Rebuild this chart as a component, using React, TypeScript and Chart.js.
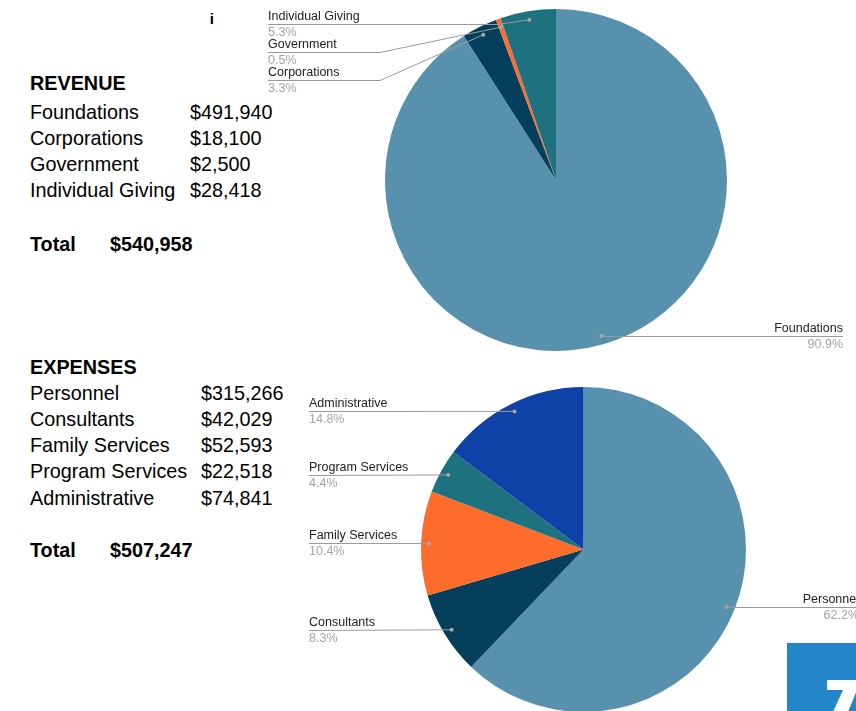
import React, { useEffect, useRef } from "react";
import { Chart, registerables } from "chart.js";

Chart.register(...registerables);

// ---- Data ----
const revenueCategories = ["Foundations", "Corporations", "Government", "Individual Giving"];
const revenueValues = [491940, 18100, 2500, 28418];
const expenseCategories = ["Personnel", "Consultants", "Family Services", "Program Services", "Administrative"];
const expenseValues = [315266, 42029, 52593, 22518, 74841];

// ---- Styles ----
const revenueColors = ["#5891ad", "#063f5c", "#fe6c2c", "#1e7280"];
const expenseColors = ["#5891ad", "#063f5c", "#fe6c2c", "#1e7280", "#0f42a6"];

type LabelSpec = { side: "left" | "right"; x: number; lineY?: number; elbowX?: number };

const revenueLabelLayout: LabelSpec[] = [
  { side: "right", x: 843 },
  { side: "left", x: 268, lineY: 80, elbowX: 380 },
  { side: "left", x: 268, lineY: 52, elbowX: 380 },
  { side: "left", x: 268, lineY: 24, elbowX: 498 },
];
const expenseLabelLayout: LabelSpec[] = [
  { side: "right", x: 859 },
  { side: "left", x: 309 },
  { side: "left", x: 309 },
  { side: "left", x: 309 },
  { side: "left", x: 309 },
];

const FONT = "'Liberation Sans', Arial, Helvetica, sans-serif";
const W = 856;
const H = 711;
const CANVAS_H = 760;

const leaderPlugin = {
  id: "leaderLabels",
  afterDraw(chart: any) {
    const layout: LabelSpec[] = chart.options.plugins.leaderLabels.layout;
    const ctx = chart.ctx;
    const meta = chart.getDatasetMeta(0);
    const data: number[] = chart.data.datasets[0].data;
    const labels: string[] = chart.data.labels;
    const total = data.reduce((a, b) => a + b, 0);
    ctx.save();
    meta.data.forEach((arc: any, i: number) => {
      const spec = layout[i];
      const p = arc.getProps(["x", "y", "startAngle", "endAngle", "outerRadius"], true);
      const mid = (p.startAngle + p.endAngle) / 2;
      const dx = p.x + Math.cos(mid) * p.outerRadius * 0.95;
      const dy = p.y + Math.sin(mid) * p.outerRadius * 0.95;
      const lineY = spec.lineY !== undefined ? spec.lineY : Math.round(dy);
      ctx.strokeStyle = "#9a9a9a";
      ctx.lineWidth = 1;
      ctx.beginPath();
      if (spec.side === "left") {
        ctx.moveTo(spec.x, lineY + 0.5);
        if (spec.elbowX !== undefined) {
          ctx.lineTo(spec.elbowX, lineY + 0.5);
        }
        ctx.lineTo(dx, dy);
      } else {
        ctx.moveTo(dx, lineY + 0.5);
        ctx.lineTo(spec.x, lineY + 0.5);
      }
      ctx.stroke();
      ctx.fillStyle = "#a6a6a6";
      ctx.beginPath();
      ctx.arc(dx, dy, 2, 0, Math.PI * 2);
      ctx.fill();

      ctx.textAlign = spec.side === "left" ? "left" : "right";
      ctx.textBaseline = "alphabetic";
      ctx.font = `12.5px ${FONT}`;
      ctx.fillStyle = "#222222";
      ctx.fillText(labels[i], spec.x, lineY - 4);
      ctx.fillStyle = "#a3a3a3";
      ctx.fillText(((data[i] / total) * 100).toFixed(1) + "%", spec.x, lineY + 11.5);
    });
    ctx.restore();
  },
};

function PieCanvas(props: {
  labels: string[];
  values: number[];
  colors: string[];
  padding: { left: number; right: number; top: number; bottom: number };
  layout: LabelSpec[];
}) {
  const ref = useRef<HTMLCanvasElement>(null);
  useEffect(() => {
    if (!ref.current) return;
    const chart = new Chart(ref.current, {
      type: "pie",
      data: {
        labels: props.labels,
        datasets: [
          {
            data: props.values,
            backgroundColor: props.colors,
            borderWidth: 0,
          },
        ],
      },
      options: {
        animation: false,
        responsive: false,
        devicePixelRatio: 1,
        layout: { padding: props.padding },
        plugins: {
          legend: { display: false },
          tooltip: { enabled: false },
          // @ts-ignore
          leaderLabels: { layout: props.layout },
        },
      } as any,
      plugins: [leaderPlugin],
    });
    return () => chart.destroy();
  }, []);
  return (
    <canvas
      ref={ref}
      width={W}
      height={CANVAS_H}
      style={{ position: "absolute", left: 0, top: 0, width: W, height: CANVAS_H }}
    />
  );
}

const fmt = (v: number) => "$" + v.toLocaleString("en-US");

function TextAt(props: { x: number; baseline: number; bold?: boolean; children: React.ReactNode }) {
  return (
    <div
      style={{
        position: "absolute",
        left: props.x,
        top: props.baseline - 16,
        fontFamily: FONT,
        fontSize: "19.8px",
        lineHeight: "19px",
        fontWeight: props.bold ? "bold" : "normal",
        color: "#000",
        whiteSpace: "nowrap",
      }}
    >
      {props.children}
    </div>
  );
}

export default function App() {
  const revTotal = revenueValues.reduce((a, b) => a + b, 0);
  const expTotal = expenseValues.reduce((a, b) => a + b, 0);
  const revRowBaselines = [119, 145, 171, 197];
  const expRowBaselines = [400, 426, 452, 478, 505];
  return (
    <div
      style={{
        position: "absolute",
        left: 0,
        top: 0,
        width: W,
        height: H,
        overflow: "hidden",
        background: "#fff",
      }}
    >
      <div
        style={{
          position: "absolute",
          left: 210,
          top: 10,
          width: 4,
          height: 18,
          overflow: "hidden",
        }}
      >
        <div
          style={{
            position: "absolute",
            right: 0,
            top: 0,
            fontFamily: FONT,
            fontSize: "15px",
            lineHeight: "18px",
            fontWeight: "bold",
            color: "#000",
          }}
        >
          i
        </div>
      </div>

      <TextAt x={30} baseline={90} bold>
        REVENUE
      </TextAt>
      {revenueCategories.map((c, i) => (
        <React.Fragment key={c}>
          <TextAt x={30} baseline={revRowBaselines[i]}>{c}</TextAt>
          <TextAt x={190} baseline={revRowBaselines[i]}>{fmt(revenueValues[i])}</TextAt>
        </React.Fragment>
      ))}
      <TextAt x={30} baseline={251} bold>
        Total
      </TextAt>
      <TextAt x={110} baseline={251} bold>
        {fmt(revTotal)}
      </TextAt>

      <TextAt x={30} baseline={374} bold>
        EXPENSES
      </TextAt>
      {expenseCategories.map((c, i) => (
        <React.Fragment key={c}>
          <TextAt x={30} baseline={expRowBaselines[i]}>{c}</TextAt>
          <TextAt x={201} baseline={expRowBaselines[i]}>{fmt(expenseValues[i])}</TextAt>
        </React.Fragment>
      ))}
      <TextAt x={30} baseline={557} bold>
        Total
      </TextAt>
      <TextAt x={110} baseline={557} bold>
        {fmt(expTotal)}
      </TextAt>

      <PieCanvas
        labels={revenueCategories}
        values={revenueValues}
        colors={revenueColors}
        padding={{ left: 385, right: W - 727, top: 9, bottom: CANVAS_H - 351 }}
        layout={revenueLabelLayout}
      />
      <PieCanvas
        labels={expenseCategories}
        values={expenseValues}
        colors={expenseColors}
        padding={{ left: 421, right: W - 746, top: 387, bottom: CANVAS_H - 712 }}
        layout={expenseLabelLayout}
      />

      <svg
        width={70}
        height={69}
        style={{ position: "absolute", left: 787, top: 643 }}
        viewBox="787 643 70 69"
      >
        <rect x={787} y={643} width={70} height={69} fill="#2386c8" />
        <polygon points="827,680 857,680 857,690 848,712 833,712 843,690 827,690" fill="#ffffff" />
      </svg>
    </div>
  );
}
